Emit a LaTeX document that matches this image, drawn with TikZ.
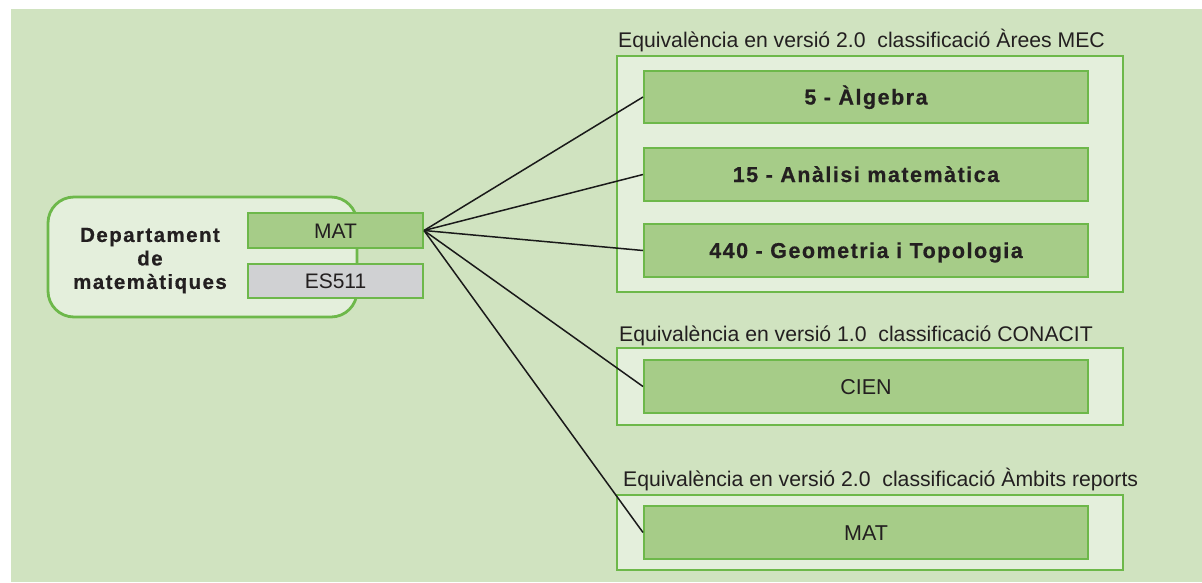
\documentclass[tikz,border=0pt]{standalone}
\usepackage{fontspec}
\setmainfont{Liberation Sans}
\newfontfamily\bsp[LetterSpace=7,BoldFeatures={FakeBold=0.6}]{Liberation Sans}
\definecolor{bgc}{HTML}{D0E3C0}
\definecolor{lightc}{HTML}{E4EFDC}
\definecolor{midc}{HTML}{A6CC88}
\definecolor{borderc}{HTML}{6DB84A}
\definecolor{grayc}{HTML}{D0D1D3}
\definecolor{txtc}{HTML}{231F20}
\definecolor{linec}{HTML}{1A1A1A}
\tikzset{
  groupbox/.style={draw=borderc, line width=2pt, fill=lightc, inner sep=0pt, minimum width=506pt},
  itembox/.style={draw=borderc, line width=2pt, fill=midc, inner sep=0pt, minimum width=444pt, minimum height=53pt,
    text=txtc, font=\bsp\bfseries\fontsize{21.5}{24}\selectfont, text height=15pt, text depth=0pt},
  codebox/.style={draw=borderc, line width=2pt, inner sep=0pt, minimum width=175pt,
    text=txtc, font=\fontsize{21}{24}\selectfont, text height=15pt, text depth=0pt},
  simplebox/.style={itembox, font=\fontsize{21.5}{24}\selectfont},
  grouplabel/.style={anchor=base west, inner sep=0pt, text=txtc, font=\fontsize{21.2}{25}\selectfont},
  link/.style={draw=linec, line width=1.5pt},
}
\begin{document}
\begin{tikzpicture}[x=1pt,y=-1pt]
\useasboundingbox (0,0) rectangle (1202,582);
\fill[white] (0,0) rectangle (1202,582);
\fill[bgc] (11,9) rectangle (1202,582);

% left department box
\node[draw=borderc, line width=2.8pt, fill=lightc, rounded corners=26pt, inner sep=0pt,
      minimum width=309pt, minimum height=120pt] (dept) at (202.5,257) {};
\node[inner sep=0pt, align=center, text=txtc, font=\bsp\bfseries\fontsize{20.5}{23.5}\selectfont]
      (deptlabel) at (150,260.5) {Departament\\de\\matemàtiques};
\node[codebox, fill=midc, minimum height=35pt] (mat) at (335.5,230.5) {MAT};
\node[codebox, fill=grayc, minimum height=34pt] (es) at (335.5,281) {ES511};

% group 1
\node[grouplabel] (l1) at (618,47) {Equivalència en versió 2.0\ \ classificació Àrees MEC};
\node[groupbox, minimum height=236pt] (g1) at (870,174) {};
\node[itembox, minimum height=52pt] (alg) at (866,97) {5 - Àlgebra};
\node[itembox] (ana) at (866,174.5) {15 - Anàlisi matemàtica};
\node[itembox] (geo) at (866,250.5) {440 - Geometria i Topologia};

% group 2
\node[grouplabel] (l2) at (619,341) {Equivalència en versió 1.0\ \ classificació CONACIT};
\node[groupbox, minimum height=77pt] (g2) at (870,386.5) {};
\node[simplebox] (cien) at (866,386.5) {CIEN};

% group 3
\node[grouplabel] (l3) at (623,486) {Equivalència en versió 2.0\ \ classificació Àmbits reports};
\node[groupbox, minimum height=75pt] (g3) at (870,532.5) {};
\node[simplebox] (mat2) at (866,532.5) {MAT};

% connectors
\draw[link] (mat.east) -- (alg.west);
\draw[link] (mat.east) -- (ana.west);
\draw[link] (mat.east) -- (geo.west);
\draw[link] (mat.east) -- (cien.west);
\draw[link] (mat.east) -- (mat2.west);
\end{tikzpicture}
\end{document}
